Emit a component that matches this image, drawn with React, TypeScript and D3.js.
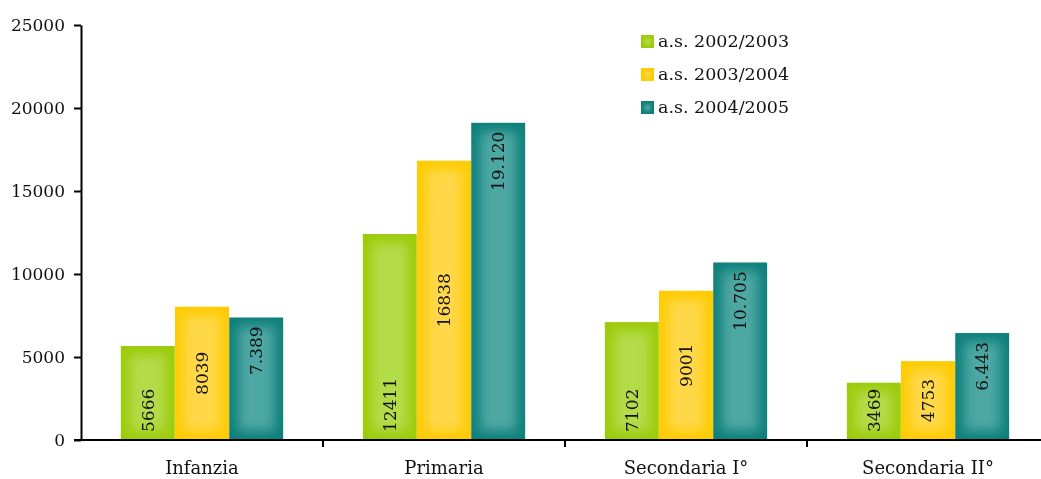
import { useEffect, useRef } from "react";
import * as d3 from "d3";

const categories = ["Infanzia", "Primaria", "Secondaria I°", "Secondaria II°"];
const seriesNames = ["a.s. 2002/2003", "a.s. 2003/2004", "a.s. 2004/2005"];
const values2002 = [5666, 12411, 7102, 3469];
const values2003 = [8039, 16838, 9001, 4753];
const values2004 = [7389, 19120, 10705, 6443];
const yTicks = [0, 5000, 10000, 15000, 20000, 25000];

const edgeColors = ["#9ccb0a", "#ffcb00", "#0e7f7b"];
const centerColors = ["#b4dc48", "#ffd84a", "#4ea7a3"];

export default function App() {
	const svgRef = useRef<SVGSVGElement>(null);

	useEffect(() => {
		if (!svgRef.current) return;
		document.body.style.overflow = "hidden";
		const width = 1041;
		const height = 479;
		const font = "'DejaVu Serif', serif";

		const svg = d3.select(svgRef.current);
		svg.selectAll("*").remove();
		svg.attr("width", width).attr("height", height);

		const series = [values2002, values2003, values2004];

		const x = d3.scaleBand().domain(categories).range([81, 1049]);
		const xInner = d3
			.scaleBand()
			.domain(seriesNames)
			.range([0, x.bandwidth()])
			.paddingOuter(0.73)
			.paddingInner(0);
		const y = d3.scaleLinear().domain([0, 25000]).range([440, 25]);

		const defs = svg.append("defs");
		defs
			.append("filter")
			.attr("id", "soft")
			.attr("x", "-50%")
			.attr("y", "-50%")
			.attr("width", "200%")
			.attr("height", "200%")
			.append("feGaussianBlur")
			.attr("stdDeviation", 6);
		defs
			.append("filter")
			.attr("id", "softSmall")
			.attr("x", "-50%")
			.attr("y", "-50%")
			.attr("width", "200%")
			.attr("height", "200%")
			.append("feGaussianBlur")
			.attr("stdDeviation", 1.5);

		// bars: edge colour with a blurred lighter core (rectangular "from centre" gradient)
		const bw = xInner.bandwidth();
		const inset = 9;
		series.forEach((vals, si) => {
			categories.forEach((cat, ci) => {
				const bx = (x(cat) as number) + (xInner(seriesNames[si]) as number);
				const by = y(vals[ci]);
				const bh = y(0) - by;
				const id = `clip-${si}-${ci}`;
				defs
					.append("clipPath")
					.attr("id", id)
					.append("rect")
					.attr("x", bx)
					.attr("y", by)
					.attr("width", bw)
					.attr("height", bh);
				const g = svg.append("g").attr("clip-path", `url(#${id})`);
				g.append("rect")
					.attr("x", bx)
					.attr("y", by)
					.attr("width", bw)
					.attr("height", bh)
					.attr("fill", edgeColors[si]);
				g.append("rect")
					.attr("x", bx + inset)
					.attr("y", by + inset)
					.attr("width", Math.max(0, bw - 2 * inset))
					.attr("height", Math.max(0, bh - 2 * inset))
					.attr("fill", centerColors[si])
					.attr("filter", "url(#soft)");
			});
		});

		// value labels
		const fmtPlain = d3.format("d");
		const fmtDot = (v: number) => d3.format(",d")(v).replace(/,/g, ".");
		series.forEach((vals, si) => {
			svg
				.append("g")
				.selectAll("text")
				.data(categories)
				.join("text")
				.attr("transform", (cat, ci) => {
					const cx = (x(cat) as number) + (xInner(seriesNames[si]) as number) + bw / 2 + 6;
					let ty: number;
					if (si === 0) ty = y(0) - 8;
					else if (si === 1) ty = (y(0) + y(vals[ci])) / 2;
					else ty = y(vals[ci]) + 9;
					return `translate(${cx},${ty}) rotate(-90)`;
				})
				.attr("text-anchor", si === 0 ? "start" : si === 1 ? "middle" : "end")
				.attr("font-family", font)
				.attr("font-size", 17)
				.attr("fill", "#111")
				.text((_, ci) => (si === 2 ? fmtDot(vals[ci]) : fmtPlain(vals[ci])));
		});

		// y axis
		const yAxis = svg
			.append("g")
			.attr("transform", "translate(81,0)")
			.call(
				d3
					.axisLeft(y)
					.tickValues(yTicks)
					.tickFormat(d3.format("d"))
					.tickSize(7)
					.tickSizeOuter(0)
					.tickPadding(9),
			);
		yAxis.select(".domain").attr("stroke", "#000").attr("stroke-width", 2);
		yAxis.selectAll(".tick line").attr("stroke", "#000").attr("stroke-width", 2);
		yAxis
			.selectAll(".tick text")
			.attr("font-family", font)
			.attr("font-size", 17)
			.attr("fill", "#111");

		// x axis
		const xAxis = svg.append("g").attr("transform", "translate(0,440)");
		xAxis
			.append("line")
			.attr("x1", 74)
			.attr("x2", width)
			.attr("stroke", "#000")
			.attr("stroke-width", 2);
		xAxis
			.selectAll("line.tk")
			.data(categories)
			.join("line")
			.attr("class", "tk")
			.attr("x1", (d) => (x(d) as number) + x.bandwidth())
			.attr("x2", (d) => (x(d) as number) + x.bandwidth())
			.attr("y1", 0)
			.attr("y2", 7)
			.attr("stroke", "#000")
			.attr("stroke-width", 2);
		xAxis
			.selectAll("text")
			.data(categories)
			.join("text")
			.attr("x", (d) => (x(d) as number) + x.bandwidth() / 2)
			.attr("y", 34)
			.attr("text-anchor", "middle")
			.attr("font-family", font)
			.attr("font-size", 18)
			.attr("fill", "#111")
			.text((d) => d);

		// legend
		const legend = svg
			.append("g")
			.selectAll("g")
			.data(seriesNames)
			.join("g")
			.attr("transform", (_, i) => `translate(641,${35 + i * 33})`);
		legend
			.append("rect")
			.attr("width", 13)
			.attr("height", 13)
			.attr("fill", (_, i) => edgeColors[i]);
		legend
			.append("rect")
			.attr("x", 3.5)
			.attr("y", 3.5)
			.attr("width", 6)
			.attr("height", 6)
			.attr("fill", (_, i) => centerColors[i])
			.attr("filter", "url(#softSmall)");
		legend
			.append("text")
			.attr("x", 17)
			.attr("y", 12)
			.attr("font-family", font)
			.attr("font-size", 17.5)
			.attr("fill", "#111")
			.text((d) => d);
	}, []);

	return (
		<div
			style={{
				position: "fixed",
				left: 0,
				top: 0,
				width: 1041,
				height: 479,
				overflow: "hidden",
			}}
		>
			<svg ref={svgRef} style={{ display: "block" }}></svg>
		</div>
	);
}
